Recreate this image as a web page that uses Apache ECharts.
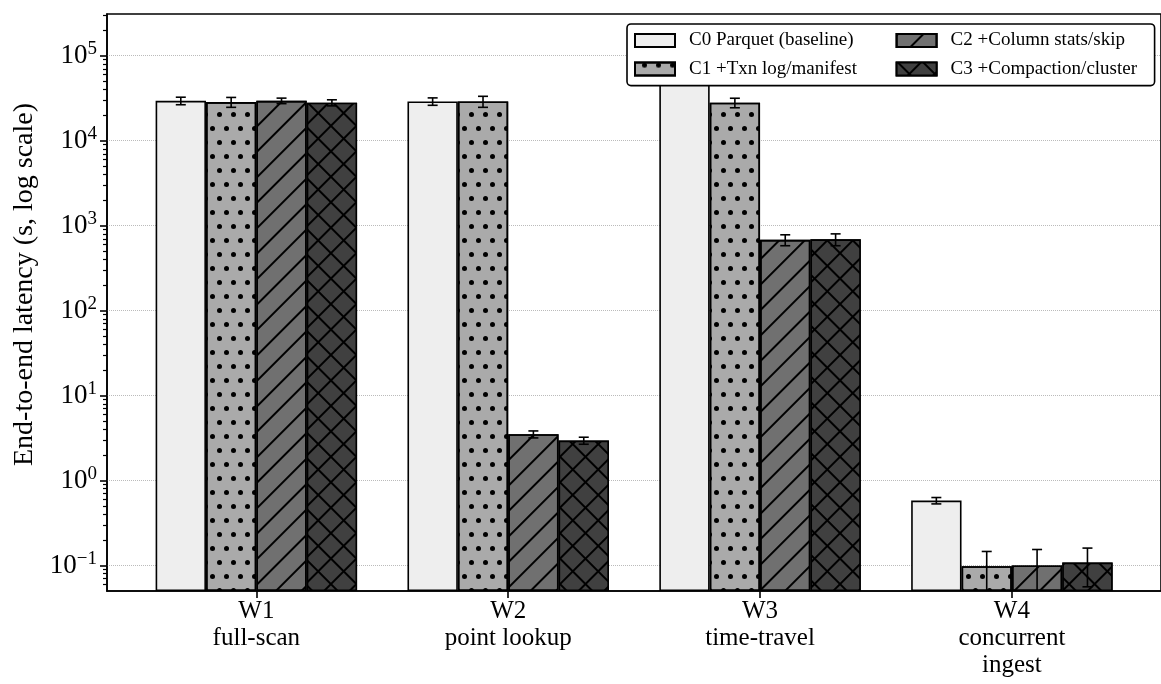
<!DOCTYPE html>
<html>
<head>
<meta charset="utf-8">
<script src="https://cdn.jsdelivr.net/npm/echarts@6/dist/echarts.min.js"></script>
<style>
html, body { margin: 0; padding: 0; background: #fff; }
#chart { width: 1161px; height: 684px; }
</style>
</head>
<body>
<div id="chart"></div>
<script>
// workloads on x, one bar per configuration
var workloads = ['W1\nfull-scan', 'W2\npoint lookup', 'W3\ntime-travel', 'W4\nconcurrent\ningest'];
var configs = ['C0 Parquet (baseline)', 'C1 +Txn log/manifest', 'C2 +Column stats/skip', 'C3 +Compaction/cluster'];

// latency (s) and error (+/-)
var c0 = [29500, 29000, 90000, 0.58];
var c0Err = [3000, 2900, 9000, 0.05];
var c1 = [28500, 29000, 28000, 0.098];
var c1Err = [3800, 4300, 3600, 0.048];
var c2 = [29500, 3.5, 680, 0.10];
var c2Err = [2200, 0.33, 100, 0.054];
var c3 = [28000, 2.95, 690, 0.108];
var c3Err = [2300, 0.28, 110, 0.052];

var yTicks = [0.1, 1, 10, 100, 1000, 10000, 100000];

var values = [c0, c1, c2, c3];
var errors = [c0Err, c1Err, c2Err, c3Err];
var fills = ['#eeeeee', '#aaaaaa', '#707070', '#404040'];
var decals = [
	null,
	{ symbol: 'circle', symbolSize: 1, color: '#000', dashArrayX: [[5, 9], [0, 7, 5, 2]], dashArrayY: [5, 9] },
	{ symbol: 'rect', symbolSize: 1, color: '#000', dashArrayX: [1, 0], dashArrayY: [2, 16], rotation: -Math.PI / 4 },
	{ symbol: 'rect', symbolSize: 1, color: '#404040', backgroundColor: '#000', dashArrayX: [16, 2], dashArrayY: [16, 2], rotation: Math.PI / 4 }
];
var yMin = 0.05, yMax = 3.1e5;

// minor ticks 2..9 per decade
var minorTicks = [];
for (var d = -2; d <= 5; d++) {
	for (var k = 2; k <= 9; k++) {
		var t = k * Math.pow(10, d);
		if (t > yMin && t < yMax) minorTicks.push(t);
	}
}

var font = 'Liberation Serif';
var series = [];
configs.forEach(function (name, i) {
	var item = { color: fills[i], borderColor: '#000', borderWidth: 1.6 };
	if (decals[i]) item.decal = decals[i];
	series.push({
		name: name,
		type: 'bar',
		barGap: '0%',
		barCategoryGap: '20%',
		itemStyle: item,
		data: values[i].map(function (v, j) { return [j, v]; })
	});
});
configs.forEach(function (name, i) {
	var off = (i - 1.5) * 0.2;
	series.push({
		name: name + ' err',
		type: 'custom',
		clip: true,
		z: 3,
		data: values[i].map(function (v, j) { return [j, v - errors[i][j], v + errors[i][j]]; }),
		renderItem: function (params, api) {
			var x = api.value(0) + off;
			var hi = api.coord([x, api.value(2)]);
			var lo = api.coord([x, api.value(1)]);
			var st = { stroke: '#000', lineWidth: 1.6 };
			return {
				type: 'group',
				children: [
					{ type: 'line', shape: { x1: hi[0], y1: hi[1], x2: lo[0], y2: lo[1] }, style: st },
					{ type: 'line', shape: { x1: hi[0] - 5, y1: hi[1], x2: hi[0] + 5, y2: hi[1] }, style: st },
					{ type: 'line', shape: { x1: lo[0] - 5, y1: lo[1], x2: lo[0] + 5, y2: lo[1] }, style: st }
				]
			};
		}
	});
});

function powLabel(v) {
	var e = Math.round(Math.log10(v));
	return '10{sup|' + (e < 0 ? '\u2212' + (-e) : e) + '}';
}

var option = {
	animation: false,
	textStyle: { fontFamily: font, color: '#000' },
	grid: {
		left: 107, right: -11, top: 14, bottom: 93,
		show: true, borderColor: '#000', borderWidth: 1.6, backgroundColor: 'transparent'
	},
	legend: {
		data: [configs[0], configs[2], configs[1], configs[3]],
		left: 627, top: 24, width: 520, z: 10,
		icon: 'rect', itemWidth: 40, itemHeight: 13, itemGap: 9.6,
		padding: [7, 7, 7, 7],
		backgroundColor: '#fff', borderColor: '#000', borderWidth: 1.6, borderRadius: 4,
		formatter: function (name) { return '{a|' + name + '}'; },
		textStyle: {
			fontFamily: font, fontSize: 19, color: '#000',
			rich: { a: { fontFamily: font, fontSize: 19, color: '#000', width: 197, lineHeight: 19, padding: [0, 0, 0, 9] } }
		}
	},
	xAxis: {
		type: 'value',
		min: -0.593, max: 3.592,
		splitLine: { show: false },
		axisLine: { onZero: false, lineStyle: { color: '#000', width: 1.6 } },
		axisTick: { customValues: [0, 1, 2, 3], length: 7, lineStyle: { color: '#000', width: 1.6 } },
		axisLabel: {
			customValues: [0, 1, 2, 3], margin: 7,
			fontSize: 25, lineHeight: 27, color: '#000',
			formatter: function (v) { return workloads[Math.round(v)]; }
		}
	},
	yAxis: [{
		type: 'log',
		min: yMin, max: yMax,
		startValue: yMin,
		name: 'End-to-end latency (s, log scale)',
		nameLocation: 'middle', nameGap: 68,
		nameTextStyle: { fontFamily: font, fontSize: 28, color: '#000', padding: [0, 0, 0, 36] },
		axisLine: { show: true, onZero: false, lineStyle: { color: '#000', width: 1.6 } },
		axisTick: { customValues: yTicks, length: 7, lineStyle: { color: '#000', width: 1.6 } },
		axisLabel: {
			customValues: yTicks, margin: 10, fontSize: 27, color: '#000',
			formatter: powLabel,
			rich: { sup: { fontSize: 19, padding: [0, 0, 13, 0], fontFamily: font } }
		},
		splitLine: { show: true, lineStyle: { color: '#bbbbbb', width: 1, type: 'dotted' } }
	}, {
		type: 'log',
		min: yMin, max: yMax,
		position: 'left',
		axisLine: { show: false, onZero: false },
		axisTick: { customValues: minorTicks, length: 4, lineStyle: { color: '#000', width: 1.2 } },
		axisLabel: { show: false },
		splitLine: { show: false }
	}],
	series: series
};

var myChart = echarts.init(document.getElementById('chart'));
myChart.setOption(option);
</script>
</body>
</html>
